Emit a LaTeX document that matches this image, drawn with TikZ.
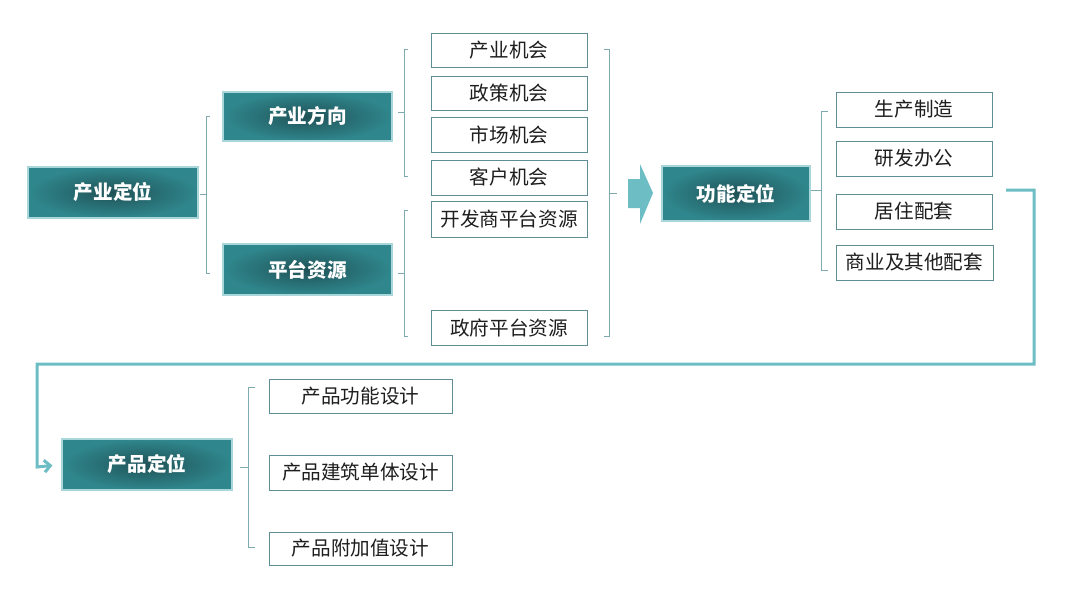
\documentclass[tikz,border=0pt]{standalone}
\usepackage{fontspec}
\setmainfont{Noto Sans CJK SC}
\usetikzlibrary{arrows.meta}
\definecolor{tealdark}{HTML}{1F5257}
\definecolor{tealout}{HTML}{2F878D}
\definecolor{tealglow}{HTML}{A9D6DA}
\definecolor{boxline}{HTML}{5E8E94}
\definecolor{brk}{HTML}{7FAAB0}
\definecolor{flowc}{HTML}{6DBDC5}
\definecolor{txt}{HTML}{1E1E1E}
\tikzset{
  darkbox/.style={draw=tealglow, line width=1.2pt, shading=radial, inner color=tealdark, outer color=tealout,
    text=white, font=\fontsize{19.6}{22}\selectfont\bfseries, inner sep=0pt},
  whitebox/.style={draw=boxline, line width=0.9pt, fill=white, text=txt,
    font=\fontsize{19.6}{22}\selectfont, inner sep=0pt},
  brace/.style={draw=brk, line width=1pt},
  flow/.style={draw=flowc, line width=3pt},
}
\begin{document}
\begin{tikzpicture}[x=1pt,y=-1pt]
\useasboundingbox (0,0) rectangle (1080,592);
% dark boxes
\node[darkbox, minimum width=170pt, minimum height=51pt] (a) at (113,192.5) {产业定位};
\node[darkbox, minimum width=169pt, minimum height=49pt] (b) at (307.5,116.5) {产业方向};
\node[darkbox, minimum width=169pt, minimum height=51pt] (c) at (307.5,269.5) {平台资源};
\node[darkbox, minimum width=148pt, minimum height=55pt] (f) at (736,193.5) {功能定位};
\node[darkbox, minimum width=170pt, minimum height=51pt] (p) at (147,464.5) {产品定位};
% white boxes middle
\node[whitebox, minimum width=156pt, minimum height=34pt] (w1) at (509,50) {产业机会};
\node[whitebox, minimum width=156pt, minimum height=34pt] (w2) at (509,93) {政策机会};
\node[whitebox, minimum width=156pt, minimum height=35pt] (w3) at (509,134.5) {市场机会};
\node[whitebox, minimum width=156pt, minimum height=35pt] (w4) at (509,177.5) {客户机会};
\node[whitebox, minimum width=156pt, minimum height=36pt] (w5) at (509,219) {开发商平台资源};
\node[whitebox, minimum width=156pt, minimum height=35pt] (w6) at (509,327.5) {政府平台资源};
% right boxes
\node[whitebox, minimum width=156pt, minimum height=35pt] (r1) at (914,109.5) {生产制造};
\node[whitebox, minimum width=156pt, minimum height=35pt] (r2) at (914,158.5) {研发办公};
\node[whitebox, minimum width=156pt, minimum height=35pt] (r3) at (914,211.5) {居住配套};
\node[whitebox, minimum width=157pt, minimum height=35pt] (r4) at (914.5,262.5) {商业及其他配套};
% bottom boxes
\node[whitebox, minimum width=183pt, minimum height=34pt] (q1) at (360.5,396) {产品功能设计};
\node[whitebox, minimum width=183pt, minimum height=35pt] (q2) at (360.5,472.5) {产品建筑单体设计};
\node[whitebox, minimum width=183pt, minimum height=33pt] (q3) at (360.5,548.5) {产品附加值设计};
% brackets
\draw[brace] (210,116) -- (206,116) -- (206,273) -- (210,273);
\draw[brace] (200,194) -- (206,194);
\draw[brace] (408,49) -- (404,49) -- (404,176) -- (408,176);
\draw[brace] (398,112) -- (404,112);
\draw[brace] (408,210) -- (404,210) -- (404,336) -- (408,336);
\draw[brace] (398,273) -- (404,273);
\draw[brace] (604,49) -- (609,49) -- (609,336) -- (604,336);
\draw[brace] (609,193) -- (617,193);
\draw[brace] (828,111) -- (821,111) -- (821,270) -- (828,270);
\draw[brace] (811,190) -- (821,190);
\draw[brace] (255,387) -- (248,387) -- (248,547) -- (255,547);
\draw[brace] (240,467) -- (248,467);
% block arrow
\fill[flowc] (628,179) -- (640,179) -- (640,164) -- (653,193) -- (640,224) -- (640,208) -- (628,208) -- cycle;
% flow connector
\coordinate (s) at (1006,190);
\draw[flow, -{Straight Barb[length=6pt,width=12pt]}, shorten >=9pt]
  (s) -- (1034,190) -- (1034,364) -- (37,364) -- (37,467) -- (p.west);
\end{tikzpicture}
\end{document}
